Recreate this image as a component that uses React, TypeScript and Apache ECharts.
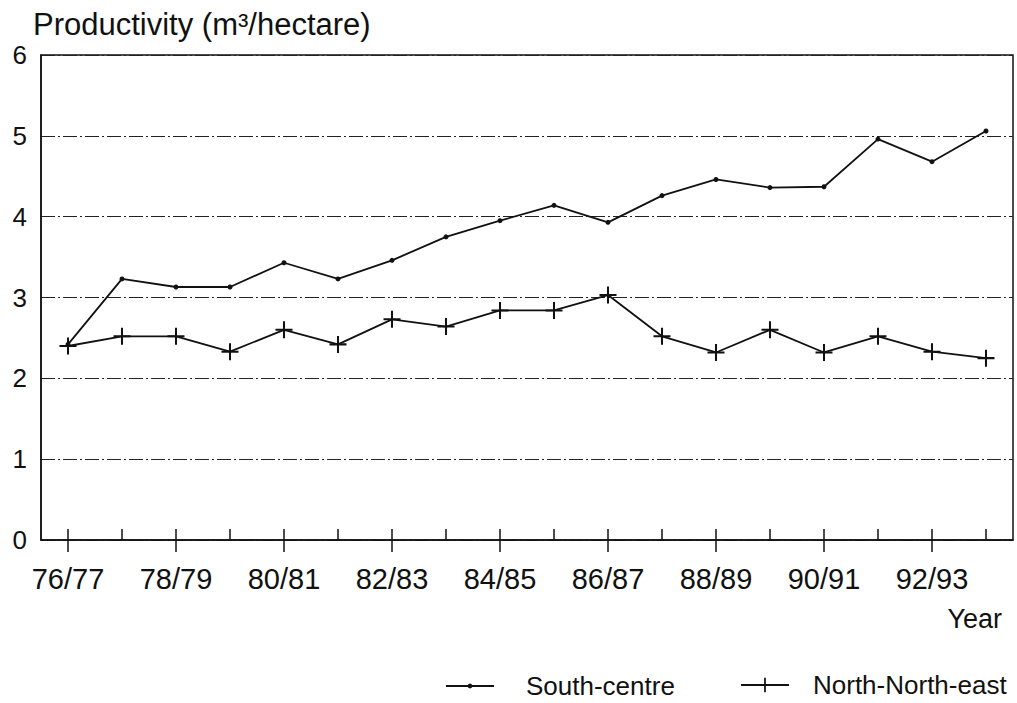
import React, { useEffect, useRef } from "react";
import * as echarts from "echarts";

const categories = [
  "76/77", "77/78", "78/79", "79/80", "80/81", "81/82", "82/83", "83/84", "84/85",
  "85/86", "86/87", "87/88", "88/89", "89/90", "90/91", "91/92", "92/93", "93/94",
];
const southCentre = [
  2.42, 3.23, 3.13, 3.13, 3.43, 3.23, 3.46, 3.75, 3.95,
  4.14, 3.93, 4.26, 4.46, 4.36, 4.37, 4.96, 4.68, 5.06,
];
const northNorthEast = [
  2.4, 2.52, 2.52, 2.33, 2.6, 2.42, 2.73, 2.64, 2.84,
  2.84, 3.03, 2.52, 2.32, 2.6, 2.32, 2.52, 2.33, 2.25,
];
const yTicks = [0, 1, 2, 3, 4, 5, 6];

const FONT = "'Liberation Sans', Arial, sans-serif";
const INK = "#111";
const CROSS = "path://M4.4,0H5.6V4.4H10V5.6H5.6V10H4.4V5.6H0V4.4H4.4Z";

export default function App() {
  const ref = useRef<HTMLDivElement>(null);
  useEffect(() => {
    if (!ref.current) return;
    const chart = echarts.init(ref.current, undefined, { renderer: "svg" });
    chart.setOption({
      animation: false,
      backgroundColor: "#fff",
      title: [
        {
          text: "Productivity (m³/hectare)",
          left: 33,
          top: 9,
          padding: 0,
          textStyle: { fontFamily: FONT, fontSize: 31, fontWeight: "normal", color: INK },
        },
        {
          text: "Year",
          right: 15,
          top: 605,
          padding: 0,
          textStyle: { fontFamily: FONT, fontSize: 27, fontWeight: "normal", color: INK },
        },
      ],
      legend: [
        {
          data: ["South-centre"],
          left: 445,
          top: 673,
          padding: 0,
          itemWidth: 48,
          itemHeight: 6,
          textStyle: { fontFamily: FONT, fontSize: 26, color: INK, padding: [0, 0, 0, 27] },
        },
        {
          data: ["North-North-east"],
          left: 740,
          top: 672,
          padding: 0,
          itemWidth: 48,
          itemHeight: 18,
          textStyle: { fontFamily: FONT, fontSize: 26, color: INK, padding: [0, 0, 0, 19] },
        },
      ],
      grid: {
        left: 41,
        right: 4,
        top: 55,
        bottom: 163,
        show: true,
        borderColor: INK,
        borderWidth: 1.5,
        backgroundColor: "transparent",
      },
      xAxis: [
        {
          type: "category",
          data: categories,
          boundaryGap: true,
          position: "bottom",
          axisLine: { show: true, lineStyle: { color: INK, width: 1.5 } },
          axisTick: {
            show: true,
            inside: true,
            length: 11,
            interval: 0,
            alignWithLabel: true,
            lineStyle: { color: INK, width: 1.5 },
          },
          axisLabel: {
            interval: 1,
            margin: 24,
            fontFamily: FONT,
            fontSize: 29,
            color: INK,
          },
          splitLine: { show: false },
        },
        {
          type: "category",
          data: categories,
          boundaryGap: true,
          position: "bottom",
          axisLine: { show: false },
          axisTick: {
            show: true,
            inside: false,
            length: 12,
            interval: 1,
            alignWithLabel: true,
            lineStyle: { color: INK, width: 1.5 },
          },
          axisLabel: { show: false },
          splitLine: { show: false },
        },
      ],
      yAxis: {
        type: "value",
        min: yTicks[0],
        max: yTicks[yTicks.length - 1],
        interval: 1,
        axisLine: { show: true, lineStyle: { color: INK, width: 1.5 } },
        axisTick: { show: false },
        axisLabel: {
          margin: 14,
          fontFamily: FONT,
          fontSize: 26,
          color: INK,
          formatter: (v: number) => String(v),
        },
        splitLine: {
          show: true,
          lineStyle: { color: "#222", width: 1.2, type: [14, 3, 2, 3] },
        },
      },
      series: [
        {
          name: "South-centre",
          type: "line",
          xAxisIndex: 0,
          data: southCentre,
          symbol: "circle",
          symbolSize: 5,
          itemStyle: { color: INK },
          lineStyle: { color: INK, width: 1.8 },
        },
        {
          name: "North-North-east",
          type: "line",
          xAxisIndex: 0,
          data: northNorthEast,
          symbol: CROSS,
          symbolSize: 17,
          itemStyle: { color: INK },
          lineStyle: { color: INK, width: 1.8 },
        },
      ],
    });
    return () => chart.dispose();
  }, []);
  return (
    <div
      ref={ref}
      style={{ position: "fixed", left: 0, top: 0, width: 1017, height: 703, background: "#fff" }}
    />
  );
}
